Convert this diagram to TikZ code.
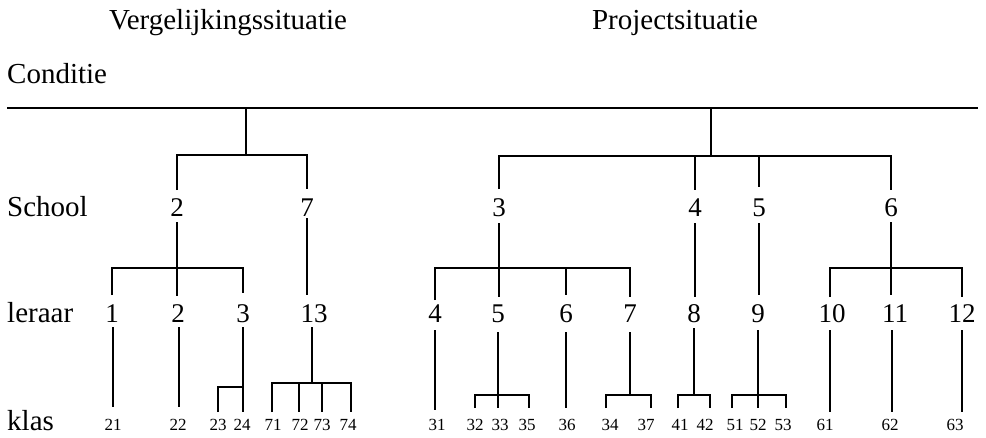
\documentclass[tikz,border=0pt]{standalone}
\usepackage{fontspec}
\setmainfont{Liberation Serif}
\begin{document}
\begin{tikzpicture}[x=1pt,y=-1pt,
  word/.style={anchor=base west,inner sep=0pt,font=\fontsize{29}{30}\selectfont},
  title/.style={anchor=base,inner sep=0pt,font=\fontsize{29}{30}\selectfont},
  num/.style={anchor=base,inner sep=0pt,font=\fontsize{27}{28}\selectfont},
  cls/.style={anchor=base,inner sep=0pt,font=\fontsize{17}{18}\selectfont},
  link/.style={line width=2.5pt,line join=miter}]
\useasboundingbox (0,0) rectangle (986,437);

% headings and row labels
\node[title] (hv) at (228,29) {Vergelijkingssituatie};
\node[title] (hp) at (675,29) {Projectsituatie};
\node[word] (lc) at (7,83) {Conditie};
\node[word] (ls) at (7,216) {School};
\node[word] (ll) at (7,322) {leraar};
\node[word] (lk) at (7,430) {klas};

% schools
\node[num] (s2) at (177,216) {2};
\node[num] (s7) at (307,216) {7};
\node[num] (s3) at (499,216) {3};
\node[num] (s4) at (695,216) {4};
\node[num] (s5) at (759,216) {5};
\node[num] (s6) at (891,216) {6};

% leraren
\node[num] (t1) at (112,322) {1};
\node[num] (t2) at (178,322) {2};
\node[num] (t3) at (243,322) {3};
\node[num] (t13) at (314,322) {13};
\node[num] (t4) at (435,322) {4};
\node[num] (t5) at (498,322) {5};
\node[num] (t6) at (566,322) {6};
\node[num] (t7) at (630,322) {7};
\node[num] (t8) at (694,322) {8};
\node[num] (t9) at (758,322) {9};
\node[num] (t10) at (832,322) {10};
\node[num] (t11) at (895,322) {11};
\node[num] (t12) at (962,322) {12};

% klassen
\foreach \n/\x in {21/113,22/178,23/218,24/242,71/273,72/300,73/322,74/348,
  31/437,32/475,33/500,35/527,36/567,34/610,37/646,41/680,42/705,
  51/735,52/758,53/783,61/825,62/890,63/955}
  \node[cls] (k\n) at (\x,430) {\n};

% condition line
\coordinate (c0) at (7,108);
\coordinate (c1) at (978,108);
\draw[link] (c0) -- (c1);

% condition -> schools
\coordinate (rl) at (246,108);
\coordinate (rr) at (711,108);
\draw[link] (rl) -- (246,155);
\draw[link] (s2 |- 0,190) -- (s2 |- 0,155) -- (s7 |- 0,155) -- (s7 |- 0,189);
\draw[link] (rr) -- (711,156);
\draw[link] (s3 |- 0,189) -- (s3 |- 0,156) -- (s6 |- 0,156) -- (s6 |- 0,190);
\draw[link] (s4 |- 0,156) -- (s4 |- 0,190);
\draw[link] (s5 |- 0,156) -- (s5 |- 0,187);

% schools -> leraren
\draw[link] (s2 |- 0,222) -- (s2 |- 0,296);
\draw[link] (t1 |- 0,295) -- (t1 |- 0,268) -- (t3 |- 0,268) -- (t3 |- 0,293);
\draw[link] (s7 |- 0,218) -- (s7 |- 0,295);
\draw[link] (s3 |- 0,223) -- (s3 |- 0,297);
\draw[link] (t4 |- 0,300) -- (t4 |- 0,268) -- (t7 |- 0,268) -- (t7 |- 0,297);
\draw[link] (t6 |- 0,268) -- (t6 |- 0,295);
\draw[link] (s4 |- 0,223) -- (s4 |- 0,297);
\draw[link] (s5 |- 0,223) -- (s5 |- 0,295);
\draw[link] (s6 |- 0,222) -- (s6 |- 0,295);
\draw[link] (830,297) -- (830,268) -- (962,268) -- (962,297);

% leraren -> klassen
\draw[link] (113,327) -- (113,407);
\draw[link] (179,327) -- (179,407);
\draw[link] (243,327) -- (243,412);
\draw[link] (218,412) -- (218,387) -- (243,387);
\draw[link] (312,327) -- (312,383);
\draw[link] (272,412) -- (272,383) -- (351,383) -- (351,412);
\draw[link] (299,383) -- (299,412);
\draw[link] (322,383) -- (322,412);

\draw[link] (435,330) -- (435,410);
\draw[link] (498,332) -- (498,408);
\draw[link] (475,408) -- (475,395) -- (529,395) -- (529,408);
\draw[link] (566,332) -- (566,408);
\draw[link] (630,332) -- (630,395);
\draw[link] (606,408) -- (606,395) -- (651,395) -- (651,408);
\draw[link] (694,328) -- (694,395);
\draw[link] (678,408) -- (678,395) -- (710,395) -- (710,408);
\draw[link] (758,330) -- (758,408);
\draw[link] (732,408) -- (732,395) -- (786,395) -- (786,408);
\draw[link] (830,330) -- (830,412);
\draw[link] (892,330) -- (892,412);
\draw[link] (962,330) -- (962,412);
\end{tikzpicture}
\end{document}
